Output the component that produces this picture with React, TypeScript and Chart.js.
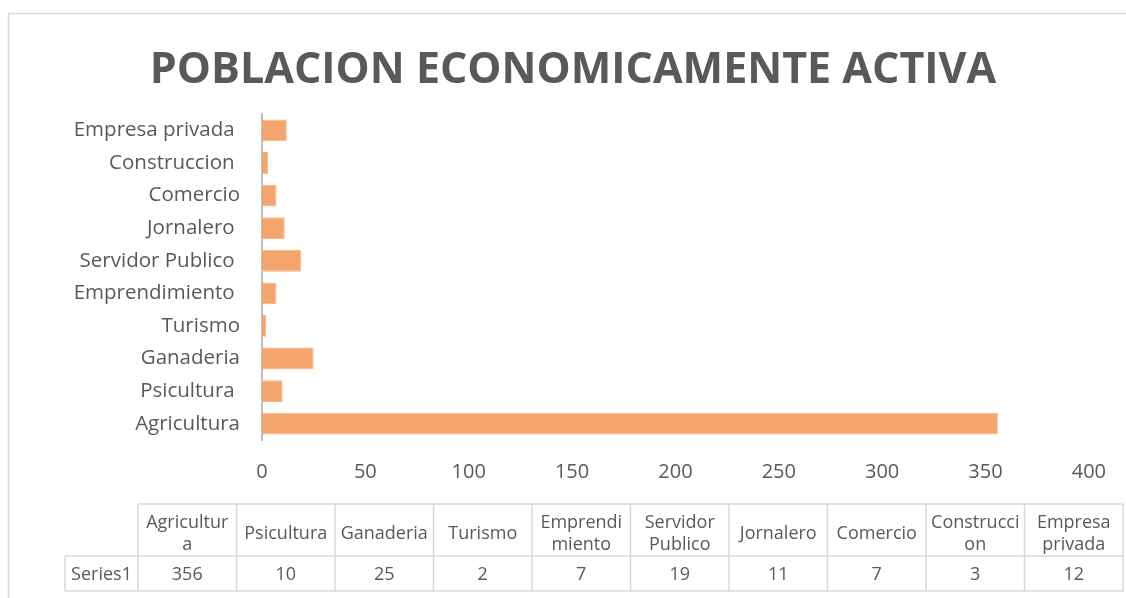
import React, { useEffect, useRef } from 'react';
import { Chart, registerables } from 'chart.js';

Chart.register(...registerables);

const chartTitle = 'POBLACION ECONOMICAMENTE ACTIVA';
const seriesName = 'Series1';
const categories = [
  'Agricultura',
  'Psicultura ',
  'Ganaderia',
  'Turismo',
  'Emprendimiento ',
  'Servidor Publico ',
  'Jornalero ',
  'Comercio',
  'Construccion ',
  'Empresa privada ',
];
const values = [356, 10, 25, 2, 7, 19, 11, 7, 3, 12];
const xMin = 0;
const xMax = 400;
const xStep = 50;

const W = 1126;
const H = 598;
const TEXT = '#595959';
const LINE = '#D9D9D9';
const FONT = "'Open Sans', sans-serif";

function wrapText(ctx: CanvasRenderingContext2D, text: string, maxW: number): string[] {
  const words = text.trim().split(/\s+/);
  const lines: string[] = [];
  let cur = '';
  for (const w of words) {
    const test = cur ? cur + ' ' + w : w;
    if (ctx.measureText(test).width <= maxW) {
      cur = test;
      continue;
    }
    if (cur) {
      lines.push(cur);
      cur = '';
    }
    let rest = w;
    while (ctx.measureText(rest).width > maxW && rest.length > 1) {
      let n = rest.length - 1;
      while (n > 1 && ctx.measureText(rest.slice(0, n)).width > maxW) n--;
      lines.push(rest.slice(0, n));
      rest = rest.slice(n);
    }
    cur = rest;
  }
  if (cur) lines.push(cur);
  return lines;
}

const frameAndTablePlugin = {
  id: 'frameAndTable',
  beforeDraw(chart: any) {
    const ctx = chart.ctx as CanvasRenderingContext2D;
    ctx.save();
    ctx.fillStyle = '#ffffff';
    ctx.fillRect(0, 0, W, H);
    ctx.strokeStyle = LINE;
    ctx.lineWidth = 1.5;
    ctx.beginPath();
    ctx.moveTo(8.5, H + 2);
    ctx.lineTo(8.5, 13.5);
    ctx.lineTo(W + 2, 13.5);
    ctx.stroke();
    ctx.restore();
  },
  afterDraw(chart: any) {
    const ctx = chart.ctx as CanvasRenderingContext2D;
    const labelLeft = 65;
    const tableLeft = 138;
    const tableRight = 1123;
    const headTop = 504;
    const rowTop = 556;
    const rowBottom = 591;
    const colW = (tableRight - tableLeft) / categories.length;
    ctx.save();
    ctx.strokeStyle = LINE;
    ctx.lineWidth = 1.5;
    ctx.beginPath();
    ctx.moveTo(tableLeft, headTop);
    ctx.lineTo(tableRight, headTop);
    ctx.moveTo(labelLeft, rowTop);
    ctx.lineTo(tableRight, rowTop);
    ctx.moveTo(labelLeft, rowBottom);
    ctx.lineTo(tableRight, rowBottom);
    ctx.moveTo(labelLeft, rowTop);
    ctx.lineTo(labelLeft, rowBottom);
    for (let i = 0; i <= categories.length; i++) {
      const x = tableLeft + i * colW;
      ctx.moveTo(x, headTop);
      ctx.lineTo(x, rowBottom);
    }
    ctx.stroke();

    ctx.fillStyle = TEXT;
    ctx.font = `18px ${FONT}`;
    ctx.textAlign = 'center';
    ctx.textBaseline = 'middle';
    const lineH = 22;
    const headMid = (headTop + rowTop) / 2 + 4;
    categories.forEach((c, i) => {
      const cx = tableLeft + (i + 0.5) * colW;
      const lines = wrapText(ctx, c, colW - 8);
      const start = headMid - ((lines.length - 1) * lineH) / 2;
      lines.forEach((ln, j) => ctx.fillText(ln, cx, start + j * lineH));
      ctx.fillText(String(values[i]), cx, (rowTop + rowBottom) / 2 + 1);
    });
    ctx.fillText(seriesName, (labelLeft + tableLeft) / 2, (rowTop + rowBottom) / 2 + 1);
    ctx.restore();
  },
};

export default function App() {
  const canvasRef = useRef<HTMLCanvasElement | null>(null);

  useEffect(() => {
    if (!canvasRef.current) return;
    const chart = new Chart(canvasRef.current, {
      type: 'bar',
      data: {
        labels: categories,
        datasets: [
          {
            label: seriesName,
            data: values,
            backgroundColor: '#F4A46D',
            borderColor: '#F7B487',
            borderWidth: 1,
            categoryPercentage: 1,
            barPercentage: 0.67,
          },
        ],
      },
      options: {
        indexAxis: 'y',
        responsive: false,
        animation: false,
        devicePixelRatio: 1,
        layout: { padding: { left: 53, right: 33, top: 0, bottom: 118 } },
        plugins: {
          legend: { display: false },
          tooltip: { enabled: false },
          title: {
            display: true,
            text: chartTitle,
            color: TEXT,
            font: { family: FONT, size: 43, weight: 'bold', lineHeight: 1.2 },
            padding: { top: 45, bottom: 17.5 },
          },
        },
        scales: {
          x: {
            type: 'linear',
            min: xMin,
            max: xMax,
            ticks: {
              stepSize: xStep,
              color: TEXT,
              font: { family: FONT, size: 20 },
              padding: 20,
            },
            grid: { display: false, drawTicks: false },
            border: { display: false },
            afterFit: (scale: any) => {
              scale.height = 40;
            },
          },
          y: {
            type: 'category',
            reverse: true,
            ticks: {
              color: TEXT,
              font: { family: FONT, size: 20.5 },
              padding: 22,
            },
            grid: { display: false, drawTicks: false },
            border: { display: true, color: '#BFBFBF', width: 2 },
            afterFit: (scale: any) => {
              scale.width = 262 - 53;
            },
          },
        },
      },
      plugins: [frameAndTablePlugin],
    });
    return () => chart.destroy();
  }, []);

  return (
    <div style={{ position: 'fixed', left: 0, top: 0, width: W, height: H, overflow: 'hidden', background: '#fff' }}>
      <canvas ref={canvasRef} width={W} height={H} style={{ display: 'block', width: W, height: H }} />
    </div>
  );
}
